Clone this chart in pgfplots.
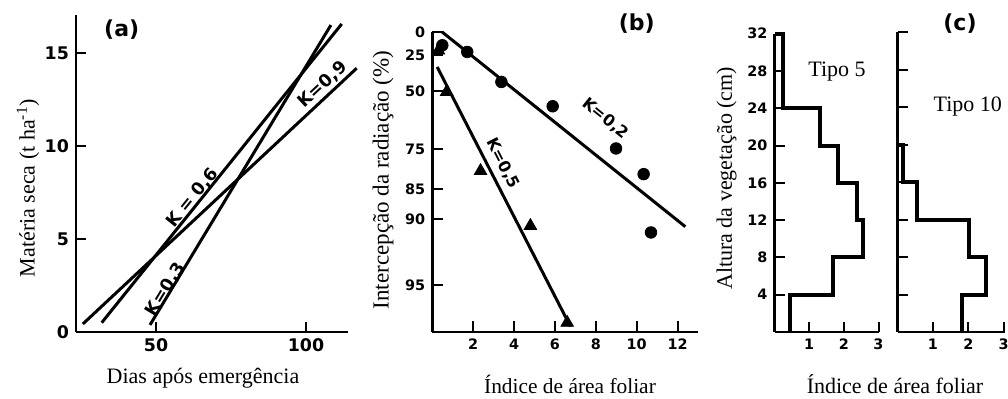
\documentclass[border=0pt]{standalone}
\usepackage{fontspec}
\setmainfont{Liberation Serif}
\newfontfamily\dvs{DejaVu Sans}
\usepackage{pgfplots}
\pgfplotsset{compat=1.18}
\newcommand{\tfa}{\dvs\bfseries\fontsize{8.7}{10}\selectfont}
\newcommand{\tfb}{\dvs\bfseries\fontsize{7.2}{8}\selectfont}
\newcommand{\lab}{\fontsize{11}{13}\selectfont}
\newcommand{\labs}{\fontsize{10.7}{12}\selectfont}
\begin{document}
\begin{tikzpicture}
\useasboundingbox (0,0) rectangle (504pt,199pt);
\pgfplotsset{
  myax/.style={scale only axis, axis lines=left, axis line style={-, line width=1.4pt},
    tick align=inside, major tick length=5pt, tick style={line width=1pt, black},
    clip=false, /pgf/number format/assume math mode=true, anchor=south west},
  ln/.style={line width=1.5pt, black, no markers},
}
% ---------------- (a)
\begin{axis}[myax, at={(38pt,33pt)}, width=136pt, height=158.5pt,
  xmin=23.33, xmax=114, ymin=0, ymax=17.04,
  xtick={50,100}, ytick={0,5,10,15},
  ticklabel style={font=\tfa}]
\addplot[ln] coordinates {(25.6,0.43) (116.9,14.18)};
\addplot[ln] coordinates {(31.9,0.5) (111.9,16.56)};
\addplot[ln] coordinates {(48,0.38) (108.3,16.5)};
\node[rotate=51.2, font=\tfa] at (axis cs:62.3,7.2) {K = 0,6};
\node[rotate=58.8, font=\tfa] at (axis cs:53.2,2.3) {K=0,3};
\node[rotate=43, font=\tfa] at (axis cs:105.6,13.3) {K=0,9};
\end{axis}
% ---------------- (b)
\begin{axis}[myax, at={(216.15pt,33pt)}, width=132.85pt, height=150pt,
  xmin=0, xmax=13, ymin=-3.575, ymax=0,
  major tick length=5.5pt,
  xtick={2,4,...,12},
  ytick={-3.015,-2.233,-1.876,-1.396,-0.702,-0.277,0},
  yticklabels={95,90,85,75,50,25,0},
  ticklabel style={font=\tfb}]
\addplot[ln] coordinates {(0.48,0) (12.38,-2.32)};
\addplot[ln] coordinates {(0.24,-0.417) (6.76,-3.51)};
\addplot[only marks, mark=triangle*, mark size=3.6pt, black] coordinates {
 (0.3,-0.22) (0.7,-0.714) (2.36,-1.655) (4.8,-2.31) (6.6,-3.464)};
\addplot[only marks, mark=*, mark size=2.9pt, black] coordinates {
 (0.49,-0.158) (1.71,-0.238) (3.38,-0.595) (5.89,-0.885) (8.99,-1.388) (10.34,-1.694) (10.7,-2.389)};
\node[rotate=-38.8, font=\dvs\bfseries\fontsize{8}{9}\selectfont] at (axis cs:8.47,-1.03) {K=0,2};
\node[rotate=-63, font=\dvs\bfseries\fontsize{8}{9}\selectfont] at (axis cs:3.45,-1.567) {K=0,5};
\end{axis}
% ---------------- (c) Tipo 5
\begin{axis}[myax, at={(387.25pt,33pt)}, width=52pt, height=149.2pt,
  xmin=0, xmax=3, ymin=0, ymax=32,
  xtick={1,2,3}, ytick={4,8,...,32},
  ticklabel style={font=\tfb}]
\addplot[line width=2pt, black, no markers] coordinates {
 (0.45,0) (0.45,4) (1.68,4) (1.68,8) (2.56,8) (2.56,12) (2.37,12) (2.37,16)
 (1.82,16) (1.82,20) (1.31,20) (1.31,24) (0.24,24) (0.24,32) (0,32)};
\end{axis}
% ---------------- (c) Tipo 10
\begin{axis}[myax, at={(448.85pt,33pt)}, width=53.8pt, height=150pt,
  xmin=0, xmax=3.05, ymin=0, ymax=32,
  xtick={1,2,3}, ytick={4,8,...,32}, yticklabels={},
  ticklabel style={font=\tfb}]
\addplot[line width=2pt, black, no markers] coordinates {
 (1.81,0) (1.81,4) (2.5,4) (2.5,8) (2.03,8) (2.03,12) (0.54,12) (0.54,16)
 (0.16,16) (0.16,20) (0,20)};
\end{axis}
% ---------------- texts
\node[font=\dvs\bfseries\fontsize{11}{13}\selectfont] at (60.85pt,184pt) {(a)};
\node[font=\dvs\bfseries\fontsize{11}{13}\selectfont] at (318.35pt,187.35pt) {(b)};
\node[font=\dvs\bfseries\fontsize{11}{13}\selectfont] at (480pt,187.35pt) {(c)};
\node[font=\lab] at (418.5pt,163.15pt) {Tipo 5};
\node[font=\lab, anchor=west, inner sep=0pt] at (466.65pt,145.65pt) {Tipo 10};
\node[font=\lab] at (101.5pt,10pt) {Dias após emergência};
\node[font=\labs] at (285pt,7pt) {Índice de área foliar};
\node[font=\lab] at (447.5pt,7pt) {Índice de área foliar};
\node[font=\lab, rotate=90] at (14pt,105pt) {Matéria seca (t ha\textsuperscript{-1})};
\node[font=\fontsize{11.5}{13}\selectfont, rotate=90] at (191.5pt,109pt) {Intercepção da radiação (\%)};
\node[font=\lab, rotate=90] at (363.35pt,109.85pt) {Altura da vegetação (cm)};
\end{tikzpicture}
\end{document}
